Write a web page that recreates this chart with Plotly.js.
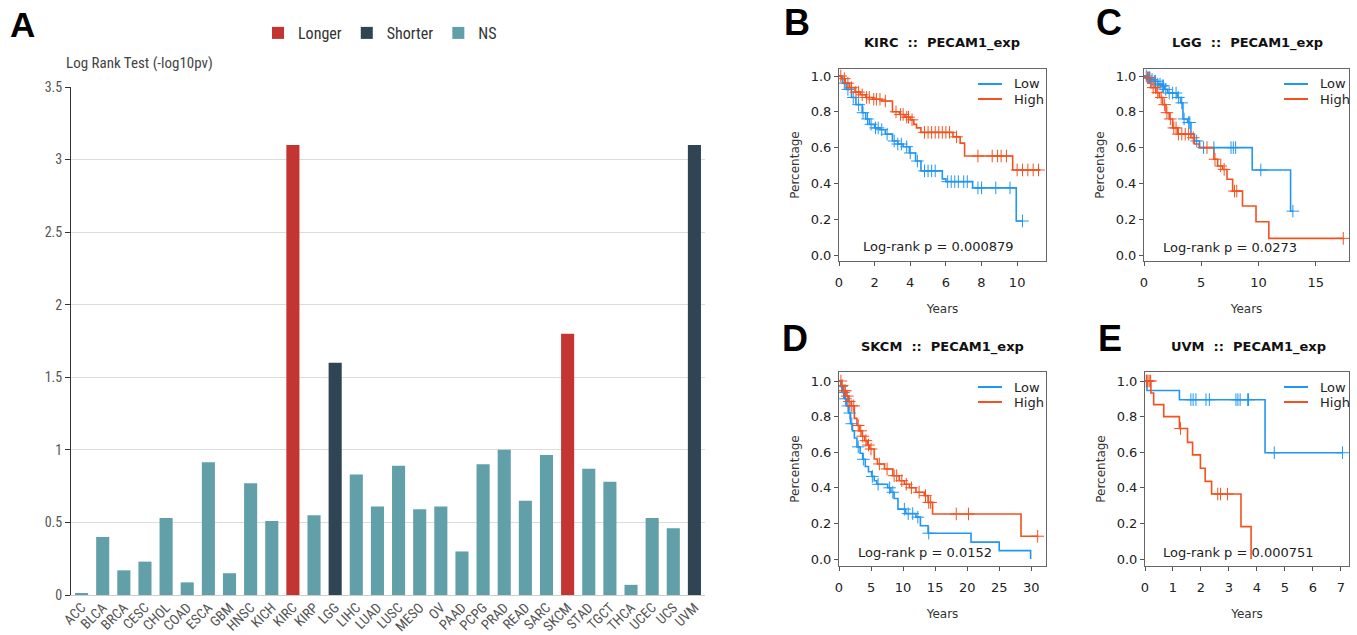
<!DOCTYPE html>
<html>
<head>
<meta charset="utf-8">
<script src="https://cdn.plot.ly/plotly-3.0.1.min.js"></script>
<style>html,body{margin:0;padding:0;background:#fff;}#chart{width:1357px;height:635px;}</style>
</head>
<body>
<div id="chart"></div>
<script>
// ---------- Panel A data ----------
const cancers = ["ACC","BLCA","BRCA","CESC","CHOL","COAD","ESCA","GBM","HNSC","KICH","KIRC","KIRP","LGG","LIHC","LUAD","LUSC","MESO","OV","PAAD","PCPG","PRAD","READ","SARC","SKCM","STAD","TGCT","THCA","UCEC","UCS","UVM"];
const logRank = [0.014,0.40,0.17,0.23,0.53,0.087,0.915,0.15,0.77,0.51,3.1,0.55,1.6,0.83,0.61,0.89,0.59,0.61,0.30,0.90,1.00,0.65,0.965,1.8,0.87,0.78,0.07,0.53,0.46,3.1];
const groups = ["NS","NS","NS","NS","NS","NS","NS","NS","NS","NS","Longer","NS","Shorter","NS","NS","NS","NS","NS","NS","NS","NS","NS","NS","Longer","NS","NS","NS","NS","NS","Shorter"];
const groupNames = ["Longer","Shorter","NS"];
const groupColors = {"Longer":"#c23531","Shorter":"#2f4554","NS":"#61a0a8"};

// ---------- KM data (time in years, survival) ----------
// B: KIRC
const kircLowT  = [0,0.2,0.4,0.7,0.95,1.3,1.5,1.7,2.0,2.3,2.6,3.0,3.3,3.6,3.95,4.3,4.6,5.8,6.0,7.5,9.95,10.3];
const kircLowS  = [1,0.96,0.925,0.88,0.84,0.795,0.76,0.73,0.71,0.70,0.675,0.637,0.62,0.605,0.57,0.525,0.47,0.425,0.41,0.375,0.19,0.19];
const kircHighT = [0,0.15,0.35,0.6,0.9,1.2,1.5,1.9,2.4,3.0,3.4,3.7,4.0,4.2,4.35,4.6,6.4,6.8,7.05,9.75,11.3];
const kircHighS = [1,0.985,0.96,0.935,0.91,0.895,0.88,0.87,0.86,0.80,0.785,0.77,0.755,0.73,0.71,0.685,0.66,0.625,0.553,0.475,0.475];
const kircLowCens  = [0.3,0.5,0.8,1.1,1.35,1.6,1.8,2.05,2.2,2.4,2.7,3.1,3.3,3.5,3.8,4.0,4.4,4.8,5.0,5.2,5.4,6.1,6.3,6.5,6.7,7.0,7.2,7.8,8.0,8.8,9.6,10.3];
const kircHighCens = [0.1,0.3,0.5,0.7,0.95,1.1,1.3,1.55,1.7,1.95,2.1,2.3,2.6,3.2,3.45,3.6,3.8,3.9,4.1,4.8,5.0,5.2,5.4,5.6,5.8,6.0,6.2,6.6,7.8,8.6,8.9,9.1,9.4,10.0,10.3,10.6,10.9,11.2];
// C: LGG
const lggLowT  = [0,0.3,0.6,0.9,1.2,1.5,1.8,2.07,2.9,3.2,3.4,3.8,4.1,4.4,4.85,9.45,12.8,13.0];
const lggLowS  = [1,0.99,0.98,0.97,0.955,0.945,0.925,0.905,0.88,0.85,0.76,0.74,0.675,0.637,0.60,0.475,0.245,0.245];
const lggHighT = [0,0.17,0.6,1.05,1.34,1.63,1.92,2.2,2.5,2.94,4.1,4.4,4.83,6.1,6.43,6.87,7.25,7.74,8.6,9.78,10.9,17.4];
const lggHighS = [1,0.99,0.935,0.907,0.88,0.84,0.795,0.76,0.71,0.675,0.655,0.62,0.60,0.535,0.497,0.478,0.423,0.357,0.274,0.186,0.093,0.093];
const lggLowCens  = [0.2,0.4,0.5,0.7,0.9,1.0,1.2,1.4,1.6,1.7,1.9,2.2,2.5,2.8,3.0,3.3,3.5,3.9,4.0,4.6,5.2,6.1,7.6,7.8,8.0,10.2,13.0];
const lggHighCens = [0.3,0.5,0.8,1.0,1.2,1.5,1.8,2.0,2.3,2.6,2.8,3.0,3.3,3.6,3.9,4.3,5.5,6.2,6.7,7.0,7.9,8.1,17.4];
// D: SKCM
const skcmLowT  = [0,0.3,0.6,0.9,1.2,1.5,1.8,2.1,2.4,2.8,3.3,3.7,4.1,4.6,5.1,5.5,5.9,7.6,8.1,8.6,9.2,10.4,12.0,12.7,13.9,20.6,25.0,29.9];
const skcmLowS  = [1,0.97,0.935,0.90,0.86,0.82,0.76,0.72,0.68,0.63,0.594,0.56,0.52,0.49,0.464,0.44,0.42,0.40,0.375,0.34,0.28,0.255,0.235,0.187,0.145,0.095,0.047,0.0];
const skcmHighT = [0,0.4,0.7,1.1,1.5,1.9,2.4,2.8,3.2,3.6,4.0,4.4,4.8,5.5,6.0,7.1,8.4,9.4,10.2,11.0,12.0,13.3,13.9,14.6,28.4,31.0];
const skcmHighS = [1,0.975,0.945,0.915,0.885,0.86,0.79,0.75,0.72,0.69,0.665,0.64,0.618,0.562,0.534,0.506,0.468,0.44,0.42,0.40,0.375,0.356,0.318,0.253,0.128,0.128];
const skcmLowCens  = [0.4,0.7,1.0,1.4,1.7,2.0,3.0,3.8,5.2,6.1,7.9,8.4,10.2,10.8,11.5,12.3,14.0];
const skcmHighCens = [0.3,0.5,0.8,1.0,1.3,1.6,2.0,2.3,3.0,3.4,3.7,4.2,4.6,5.0,6.3,7.5,8.6,9.0,9.8,10.5,11.3,12.5,13.5,14.0,14.3,18.3,20.2,31.0];
// E: UVM
const uvmLowT  = [0,0.07,1.23,4.29,7.06];
const uvmLowS  = [1,0.947,0.895,0.597,0.597];
const uvmHighT = [0,0.21,0.31,0.67,1.23,1.52,1.7,1.98,2.15,2.38,3.43,3.79];
const uvmHighS = [1,0.933,0.867,0.80,0.733,0.655,0.585,0.51,0.436,0.365,0.182,0.0];
const uvmLowCens  = [0.05,1.64,1.72,1.82,2.18,2.3,3.25,3.32,3.4,3.67,3.7,4.62,7.06];
const uvmHighCens = [0.05,0.1,0.15,0.2,1.27,2.6,2.7,2.95];

const kmLegend = ["Low","High"];
const kmPanels = [
  {name:"KIRC", p:"0.000879", lowT:kircLowT, lowS:kircLowS, highT:kircHighT, highS:kircHighS, lowC:kircLowCens, highC:kircHighCens},
  {name:"LGG",  p:"0.0273",   lowT:lggLowT,  lowS:lggLowS,  highT:lggHighT,  highS:lggHighS,  lowC:lggLowCens,  highC:lggHighCens},
  {name:"SKCM", p:"0.0152",   lowT:skcmLowT, lowS:skcmLowS, highT:skcmHighT, highS:skcmHighS, lowC:skcmLowCens, highC:skcmHighCens},
  {name:"UVM",  p:"0.000751", lowT:uvmLowT,  lowS:uvmLowS,  highT:uvmHighT,  highS:uvmHighS,  lowC:uvmLowCens,  highC:uvmHighCens}
];

// ---------- build ----------
const W = 1357, H = 635;
const px = v => v / W;
const py = v => 1 - v / H;

const LOW = "#2196f3", HIGH = "#f4511e";
const kmFont = "DejaVu Sans, Verdana, sans-serif";
const barFont = "Liberation Sans Narrow, Roboto Condensed, Open Sans, sans-serif";

function survAt(T, S, t) {
  let v = S[0];
  for (let i = 0; i < T.length; i++) { if (T[i] <= t) v = S[i]; }
  return v;
}

const traces = [];
groupNames.forEach(g => {
  const xs = [], ys = [];
  cancers.forEach((c, i) => { if (groups[i] === g) { xs.push(c); ys.push(logRank[i]); } });
  traces.push({type:"bar", x:xs, y:ys, name:g, marker:{color:groupColors[g]}, xaxis:"x", yaxis:"y", width:0.62});
});

// panel geometry (pixels)
const geo = [
  {x0:839, x1:1046, y0:69,  y1:261, xr:[0,11.62], dt:2,  pxC:938,  pyC:246, title:942,  tY:43,  lab:"B", labX:797, labY:22,  lgL:68, lgT:34},
  {x0:1144,x1:1349, y0:69,  y1:261, xr:[0,17.9],  dt:5,  pxC:1230, pyC:247, title:1247, tY:43,  lab:"C", labX:1109, labY:22, lgL:65, lgT:31},
  {x0:839, x1:1046, y0:372, y1:566, xr:[0,32.3],  dt:5,  pxC:925,  pyC:552, title:942,  tY:347, lab:"D", labX:795, labY:338, lgL:68, lgT:34},
  {x0:1145,x1:1349, y0:372, y1:566, xr:[0,7.29],  dt:1,  pxC:1238, pyC:552, title:1248, tY:347, lab:"E", labX:1110, labY:338, lgL:65, lgT:31}
];

const layout = {
  width: W, height: H,
  margin: {l:0, r:0, t:0, b:0},
  paper_bgcolor: "#fff", plot_bgcolor: "rgba(0,0,0,0)",
  barmode: "overlay",
  showlegend: true,
  font: {family: barFont, color: "#333"},
  xaxis: {domain:[px(71), px(705)], anchor:"y", type:"category", categoryorder:"array", categoryarray:cancers,
          range:[-0.5, cancers.length-0.5], tickangle:-45, tickfont:{family:barFont, size:14, color:"#555"},
          ticklabelstandoff:-2,
          showline:true, linecolor:"#ccc", linewidth:1, ticks:"", showgrid:false, zeroline:false},
  yaxis: {domain:[py(595), py(87)], anchor:"x", range:[0,3.5], dtick:0.5, tickfont:{family:barFont, size:14, color:"#555"},
          showline:true, linecolor:"#333", linewidth:1, ticks:"outside", ticklen:5, tickcolor:"#333",
          showgrid:true, gridcolor:"#dcdcdc", gridwidth:1, zeroline:false},
  legend: {orientation:"h", x:px(380), xanchor:"center", y:py(33), yanchor:"middle",
           font:{family:barFont, size:16, color:"#333"}, bgcolor:"rgba(0,0,0,0)", itemwidth:30, traceorder:"normal"},
  shapes: [],
  annotations: [
    {text:"Log Rank Test (-log10pv)", xref:"paper", yref:"paper", x:px(64), y:py(63), xanchor:"left", yanchor:"middle",
     showarrow:false, font:{family:barFont, size:15, color:"#444"}},
    {text:"<b>A</b>", xref:"paper", yref:"paper", x:px(22), y:py(24), xanchor:"center", yanchor:"middle",
     showarrow:false, font:{family:"Liberation Sans, Arial, sans-serif", size:35, color:"#000"}}
  ]
};

kmPanels.forEach((k, i) => {
  const n = i + 2, g = geo[i];
  const xa = "x" + n, ya = "y" + n;
  traces.push({type:"scatter", mode:"lines", x:k.lowT, y:k.lowS, line:{shape:"hv", color:LOW, width:1.6},
               name:kmLegend[0], xaxis:xa, yaxis:ya, showlegend:false});
  traces.push({type:"scatter", mode:"lines", x:k.highT, y:k.highS, line:{shape:"hv", color:HIGH, width:1.6},
               name:kmLegend[1], xaxis:xa, yaxis:ya, showlegend:false});
  traces.push({type:"scatter", mode:"markers", x:k.lowC, y:k.lowC.map(t => survAt(k.lowT, k.lowS, t)),
               marker:{symbol:"cross-thin", size:9, line:{color:LOW, width:1}}, xaxis:xa, yaxis:ya, showlegend:false});
  traces.push({type:"scatter", mode:"markers", x:k.highC, y:k.highC.map(t => survAt(k.highT, k.highS, t)),
               marker:{symbol:"cross-thin", size:9, line:{color:HIGH, width:1}}, xaxis:xa, yaxis:ya, showlegend:false});

  const axCommon = {showline:true, mirror:true, linecolor:"#666", linewidth:1, ticks:"outside", ticklen:4, tickcolor:"#555",
                    tickfont:{family:kmFont, size:13, color:"#222"}, showgrid:false, zeroline:false};
  const y1px = i < 2 ? 76 : 381, y0px = i < 2 ? 255 : 559;
  const per = y0px - y1px;
  const yr = [(y0px - g.y1) / per, (y0px - g.y0) / per];
  layout["xaxis" + n] = Object.assign({}, axCommon, {domain:[px(g.x0), px(g.x1)], anchor:ya, range:g.xr, dtick:g.dt,
      ticklabelstandoff:5,
      title:{text:"Years", font:{family:kmFont, size:12, color:"#333"}, standoff:16}});
  layout["yaxis" + n] = Object.assign({}, axCommon, {domain:[py(g.y1), py(g.y0)], anchor:xa, range:yr,
      tickvals:[0,0.2,0.4,0.6,0.8,1.0], ticktext:["0.0","0.2","0.4","0.6","0.8","1.0"],
      title:{text:"Percentage", font:{family:kmFont, size:12, color:"#333"}, standoff:8}});

  // in-panel legend (line samples + labels)
  [LOW, HIGH].forEach((c, j) => {
    const yy = g.y0 + 15 + j * 15;
    layout.shapes.push({type:"line", xref:"paper", yref:"paper", x0:px(g.x1 - g.lgL), x1:px(g.x1 - g.lgL + 24),
                        y0:py(yy), y1:py(yy), line:{color:c, width:2}});
    layout.annotations.push({text:kmLegend[j], xref:"paper", yref:"paper", x:px(g.x1 - g.lgT), y:py(yy),
                             xanchor:"left", yanchor:"middle", showarrow:false,
                             font:{family:kmFont, size:13, color:"#222"}});
  });

  layout.annotations.push({text:"<b>" + k.name + "\u00a0\u00a0::\u00a0\u00a0PECAM1_exp</b>", xref:"paper", yref:"paper",
      x:px(g.title), y:py(g.tY), xanchor:"center", yanchor:"middle", showarrow:false,
      font:{family:kmFont, size:13, color:"#111"}});
  layout.annotations.push({text:"Log-rank p = " + k.p, xref:"paper", yref:"paper",
      x:px(g.pxC), y:py(g.pyC), xanchor:"center", yanchor:"middle", showarrow:false,
      font:{family:kmFont, size:13, color:"#222"}});
  layout.annotations.push({text:"<b>" + g.lab + "</b>", xref:"paper", yref:"paper", x:px(g.labX), y:py(g.labY),
      xanchor:"center", yanchor:"middle", showarrow:false,
      font:{family:"Liberation Sans, Arial, sans-serif", size:36, color:"#000"}});
});

Plotly.newPlot("chart", traces, layout, {displayModeBar:false, staticPlot:true});
</script>
</body>
</html>
